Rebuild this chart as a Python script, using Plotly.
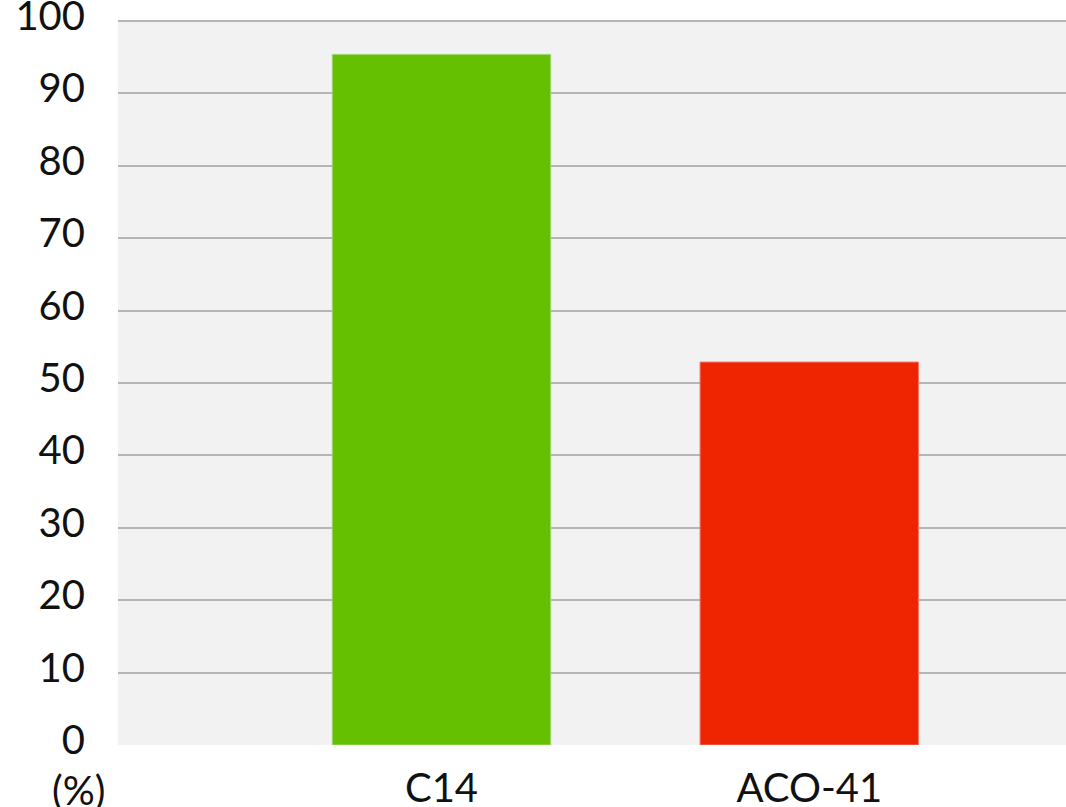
import plotly.graph_objects as go

categories = ["C14", "ACO-41"]
values = [95.4, 52.9]
bar_colors = ["#64c000", "#ee2500"]
edge_colors = ["#9fd870", "#f47a66"]
y_ticks = [0, 10, 20, 30, 40, 50, 60, 70, 80, 90, 100]
unit_label = "(%)"

font_family = "Lato, 'Open Sans', sans-serif"
font_size = 40

fig = go.Figure()
fig.add_trace(go.Bar(
    x=categories,
    y=values,
    width=0.594,
    marker=dict(color=bar_colors, line=dict(color=edge_colors, width=1)),
    hoverinfo="skip",
))

fig.update_layout(
    template="none",
    width=1066,
    height=807,
    autosize=False,
    margin=dict(l=118, r=0, t=20, b=62, pad=0),
    paper_bgcolor="white",
    plot_bgcolor="#f2f2f2",
    showlegend=False,
    font=dict(family=font_family, size=font_size, color="#111111"),
    xaxis=dict(
        type="category",
        range=[-0.8796, 1.698],
        automargin=False,
        showgrid=False,
        zeroline=False,
        showline=False,
        ticks="outside",
        ticklen=8,
        tickcolor="rgba(0,0,0,0)",
        tickfont=dict(size=font_size),
        ticklabeloverflow="allow",
    ),
    yaxis=dict(
        range=[0, 100.15],
        automargin=False,
        tickmode="array",
        tickvals=y_ticks,
        ticktext=[str(v) for v in y_ticks],
        showgrid=True,
        gridcolor="#b5b5b5",
        gridwidth=2,
        zeroline=False,
        showline=False,
        ticks="outside",
        ticklen=24,
        tickcolor="rgba(0,0,0,0)",
        tickfont=dict(size=font_size),
        ticklabeloverflow="allow",
        ticklabelshift=-5,
    ),
    annotations=[dict(
        text=unit_label,
        xref="paper", yref="paper",
        x=-0.0412, y=-0.062,
        xanchor="center", yanchor="middle",
        showarrow=False,
        font=dict(family=font_family, size=font_size, color="#111111"),
    )],
)

fig.write_html(
    "out.html",
    config={"displayModeBar": False},
    post_script="document.body.style.margin='0';document.body.style.overflow='hidden';",
)
